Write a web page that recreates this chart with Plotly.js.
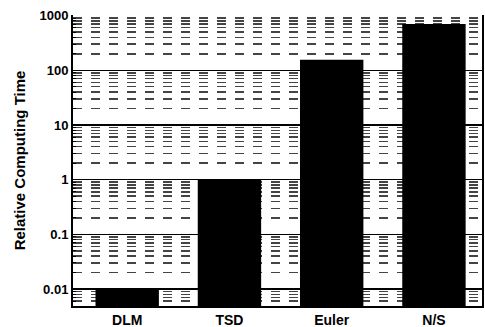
<!DOCTYPE html>
<html><head><meta charset="utf-8">
<script src="https://cdn.plot.ly/plotly-3.0.1.min.js"></script>
<style>html,body{margin:0;padding:0;background:#fff}#c{width:485px;height:327px}</style>
</head><body><div id="c"></div>
<script>
var methods = ["DLM", "TSD", "Euler", "N/S"];
var relTime = [0.01, 1.0, 155, 700];
var yTickVals = [0.01, 0.1, 1, 10, 100, 1000];
var yTickText = ["0.01", "0.1", "1", "10", "100", "1000"];
var yMinorVals = [0.006, 0.007, 0.008, 0.009,
  0.02, 0.03, 0.04, 0.05, 0.06, 0.07, 0.08, 0.09,
  0.2, 0.3, 0.4, 0.5, 0.6, 0.7, 0.8, 0.9,
  2, 3, 4, 5, 6, 7, 8, 9,
  20, 30, 40, 50, 60, 70, 80, 90,
  200, 300, 400, 500, 600, 700, 800, 900];

var trace = {
  type: "bar", x: methods, y: relTime,
  marker: {color: "#000", line: {width: 0}}
};
var layout = {
  width: 485, height: 327,
  margin: {l: 73, r: 3, t: 15, b: 21},
  paper_bgcolor: "#fff", plot_bgcolor: "#fff",
  font: {family: "Liberation Sans, Arial, sans-serif", size: 13, color: "#000", weight: "bold"},
  bargap: 0.38,
  showlegend: false,
  xaxis: {
    type: "category", range: [-0.53, 3.47],
    showline: true, linecolor: "#000", linewidth: 2, mirror: false,
    ticks: "", showgrid: false,
    tickfont: {size: 14, weight: "bold"}
  },
  yaxis: {
    type: "log", range: [-2.31, 3.01],
    tickvals: yTickVals, ticktext: yTickText,
    showline: true, linecolor: "#000", linewidth: 2, mirror: true,
    ticks: "inside", ticklen: 5, tickcolor: "#000",
    showgrid: true, gridcolor: "#000", gridwidth: 1.5,
    zeroline: false,
    tickfont: {size: 13, weight: "bold"},
    title: {text: "Relative Computing Time", font: {size: 15, weight: "bold"}, standoff: 10},
    minor: {
      tickvals: yMinorVals,
      showgrid: true, gridcolor: "#444", griddash: "dash", gridwidth: 1.5,
      ticks: "inside", ticklen: 3, tickcolor: "#000"
    }
  }
};
Plotly.newPlot("c", [trace], layout, {staticPlot: true, displayModeBar: false});
</script></body></html>
